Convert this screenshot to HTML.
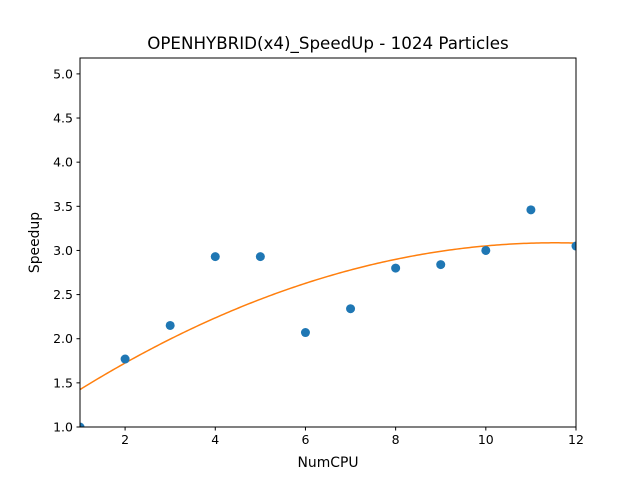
<!DOCTYPE html>
<html><head><meta charset="utf-8">
<style>
body{margin:0;background:#fff;}
svg{display:block;font-family:"DejaVu Sans","Liberation Sans",sans-serif;}
</style></head>
<body>
<svg id="chart" width="640" height="480" viewBox="0 0 640 480" xmlns="http://www.w3.org/2000/svg">
<rect width="640" height="480" fill="#fff"/>
<defs><clipPath id="plotclip"><rect x="80" y="58" width="496" height="369"/></clipPath></defs>
<text x="328" y="49" font-size="16.7" text-anchor="middle">OPENHYBRID(x4)_SpeedUp - 1024 Particles</text>
<g id="axes"></g>
<g id="marks" clip-path="url(#plotclip)"></g>
<rect x="80" y="58" width="496" height="369" fill="none" stroke="#000" stroke-width="1"/>
<text x="328" y="467" font-size="13.9" text-anchor="middle">NumCPU</text>
<text x="0" y="0" font-size="13.9" text-anchor="middle" transform="translate(39,242.5) rotate(-90)">Speedup</text>
</svg>
<script>
const numCpu = [1,2,3,4,5,6,7,8,9,10,11,12];
const speedup = [1.0,1.77,2.15,2.93,2.93,2.07,2.34,2.80,2.84,3.00,3.46,3.05];
const xTicks = [2,4,6,8,10,12];
const yTicks = [1.0,1.5,2.0,2.5,3.0,3.5,4.0,4.5,5.0];
const xDomain = [1,12];
const yDomain = [1.0,5.18];

const L=80,R=576,T=58,B=427;
const NS="http://www.w3.org/2000/svg";
function sx(v){return L+(v-xDomain[0])/(xDomain[1]-xDomain[0])*(R-L);}
function sy(v){return B-(v-yDomain[0])/(yDomain[1]-yDomain[0])*(B-T);}
function mk(tag,attrs,parent){const e=document.createElementNS(NS,tag);for(const k in attrs)e.setAttribute(k,attrs[k]);parent.appendChild(e);return e;}
const axes=document.getElementById('axes'), marks=document.getElementById('marks');

xTicks.forEach(t=>{
  const l=mk('line',{x1:sx(t),x2:sx(t),y1:B,y2:B+3.5,stroke:'#000'},axes);
  
  
  const tx=mk('text',{x:sx(t),y:B+17,'font-size':12.5,'text-anchor':'middle'},axes);
  tx.textContent=String(t);
  
  
});
yTicks.forEach(t=>{
  const l=mk('line',{x1:L-3.5,x2:L,y1:sy(t),y2:sy(t),stroke:'#000'},axes);
  
  
  const tx=mk('text',{x:L-7,y:sy(t)+4.5,'font-size':12.5,'text-anchor':'end'},axes);
  tx.textContent=t.toFixed(1);
  
  
});

function fit2(xs,ys){
  let S=[0,0,0,0,0],Y=[0,0,0];
  for(let i=0;i<xs.length;i++){let p=1;for(let k=0;k<5;k++){S[k]+=p;if(k<3)Y[k]+=ys[i]*p;p*=xs[i];}}
  const M=[[S[0],S[1],S[2],Y[0]],[S[1],S[2],S[3],Y[1]],[S[2],S[3],S[4],Y[2]]];
  for(let c=0;c<3;c++){for(let r=c+1;r<3;r++){const f=M[r][c]/M[c][c];for(let k=c;k<4;k++)M[r][k]-=f*M[c][k];}}
  const b=[0,0,0];
  for(let r=2;r>=0;r--){let s=M[r][3];for(let k=r+1;k<3;k++)s-=M[r][k]*b[k];b[r]=s/M[r][r];}
  return b;
}
const co=fit2(numCpu,speedup);
let d='';
for(let i=0;i<=200;i++){const x=xDomain[0]+(xDomain[1]-xDomain[0])*i/200;const y=co[0]+co[1]*x+co[2]*x*x;d+=(i?'L':'M')+sx(x).toFixed(2)+','+sy(y).toFixed(2);}
const path=mk('path',{d:d,fill:'none',stroke:'#ff7f0e','stroke-width':1.5},marks);



numCpu.forEach((x,i)=>{
  const c=mk('circle',{cx:sx(x),cy:sy(speedup[i]),r:4.5,fill:'#1f77b4'},marks);
  
  
});
</script>
</body></html>
